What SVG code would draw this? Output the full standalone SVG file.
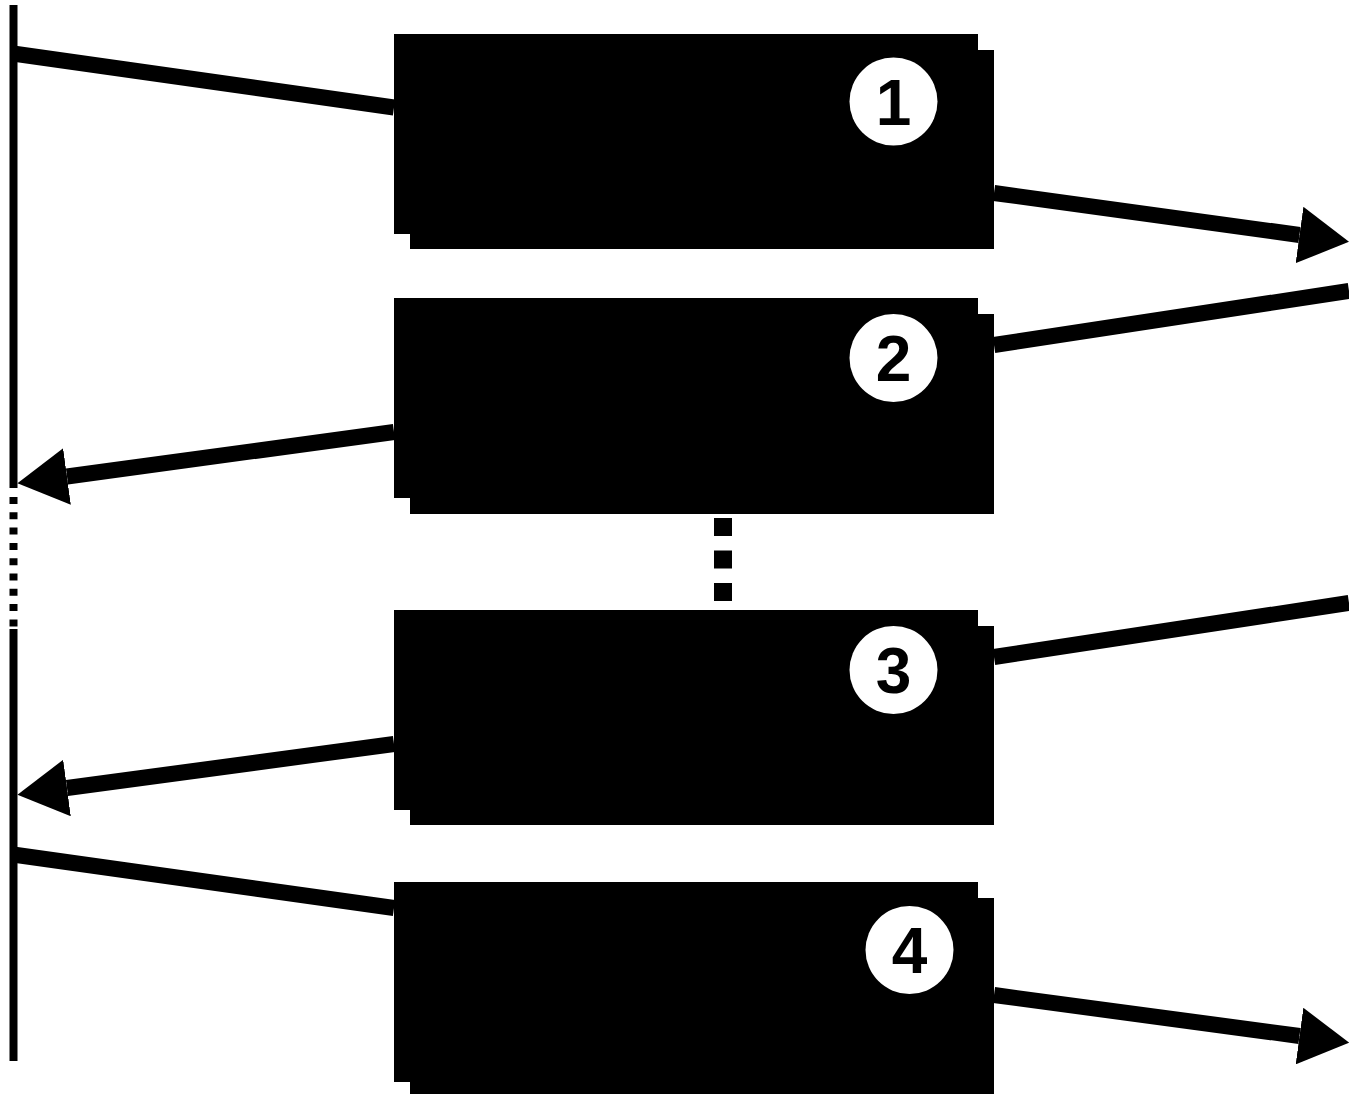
<svg xmlns="http://www.w3.org/2000/svg" width="1349" height="1094" viewBox="0 0 1349 1094">
<style>
.box{fill:#000}
.badge{fill:#fff}
.num{font-family:"Liberation Sans",Arial,sans-serif;font-weight:bold;font-size:64px;fill:#000;text-anchor:middle}
.conn{stroke:#000;stroke-width:16;fill:none}
.rail{stroke:#000;stroke-width:8;fill:none}
</style>
<defs>
<marker id="ah" markerUnits="userSpaceOnUse" viewBox="0 0 50 57" refX="0" refY="28.5" markerWidth="50" markerHeight="57" orient="auto">
<path d="M0,0 L50,28.5 L0,57 Z" fill="#000"/>
</marker>
</defs>
<rect width="1349" height="1094" fill="#fff"/>
<g id="rail">
<line class="rail" x1="13.5" y1="5" x2="13.5" y2="488"/>
<line class="rail" x1="13.5" y1="497" x2="13.5" y2="628" stroke-dasharray="7 8.3"/>
<line class="rail" x1="13.5" y1="629" x2="13.5" y2="1061"/>
</g>
<g id="ellipsis">
<line x1="723" y1="518" x2="723" y2="601" stroke="#000" stroke-width="18" stroke-dasharray="18 14.5"/>
</g>
<g id="connectors">
<line class="conn" x1="13" y1="53.5" x2="394" y2="107.5"/>
<line class="conn" x1="994" y1="193" x2="1299.5" y2="235" marker-end="url(#ah)"/>
<line class="conn" x1="1349" y1="291" x2="994" y2="345"/>
<line class="conn" x1="394" y1="432" x2="67" y2="476.5" marker-end="url(#ah)"/>
<line class="conn" x1="1349" y1="603" x2="994" y2="657"/>
<line class="conn" x1="394" y1="744" x2="67" y2="788" marker-end="url(#ah)"/>
<line class="conn" x1="13" y1="854.5" x2="394" y2="908"/>
<line class="conn" x1="994" y1="995" x2="1299.5" y2="1036" marker-end="url(#ah)"/>
</g>
<g id="node1">
<rect class="box" x="410" y="50" width="584" height="199"/>
<rect class="box" x="394" y="34" width="584" height="200"/>
<circle class="badge" cx="893.5" cy="101.5" r="44"/>
<text class="num" x="893.5" y="124.5">1</text>
</g>
<g id="node2">
<rect class="box" x="410" y="314" width="584" height="200"/>
<rect class="box" x="394" y="298" width="584" height="200"/>
<circle class="badge" cx="893.5" cy="358" r="44"/>
<text class="num" x="893.5" y="381">2</text>
</g>
<g id="node3">
<rect class="box" x="410" y="626" width="584" height="199"/>
<rect class="box" x="394" y="610" width="584" height="200"/>
<circle class="badge" cx="893.5" cy="670" r="44"/>
<text class="num" x="893.5" y="693">3</text>
</g>
<g id="node4">
<rect class="box" x="410" y="898" width="584" height="200"/>
<rect class="box" x="394" y="882" width="584" height="200"/>
<circle class="badge" cx="909.5" cy="950" r="44"/>
<text class="num" x="909.5" y="973">4</text>
</g>
</svg>
